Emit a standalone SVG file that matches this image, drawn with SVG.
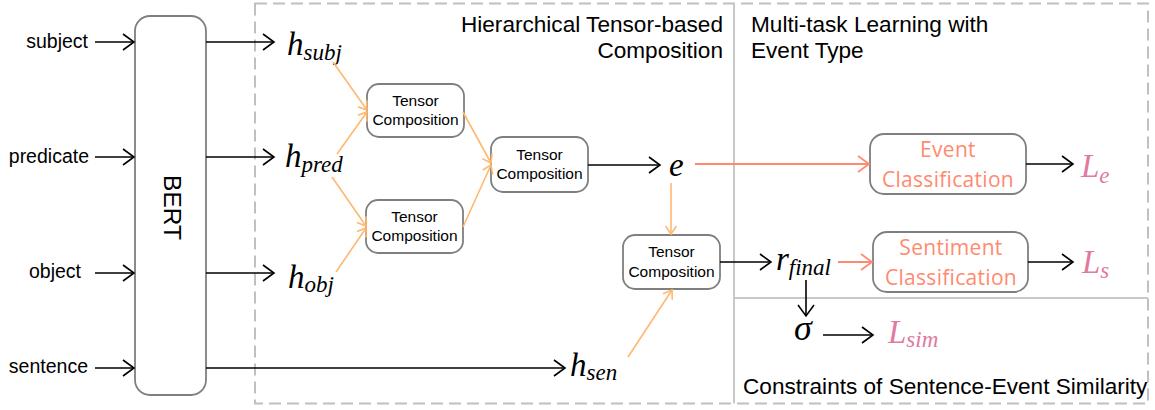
<svg xmlns="http://www.w3.org/2000/svg" width="1155" height="410" viewBox="0 0 1155 410">
<style>
.lbl{font-family:"Liberation Sans",Arial,sans-serif;font-size:19.5px;fill:#000}
.ttl{font-family:"Liberation Sans",Arial,sans-serif;font-size:22.6px;fill:#000}
.tc{font-family:"Liberation Sans",Arial,sans-serif;font-size:15.5px;fill:#000;text-anchor:middle}
.cls{font-family:"Open Sans","Noto Sans",sans-serif;font-size:21px;fill:#FF8A70;text-anchor:middle;letter-spacing:0.3px}
.m{font-family:"Liberation Serif","Times New Roman",serif;font-style:italic;font-size:33px;fill:#000}
.sub{font-size:23px}
.L{fill:#E07AA0}
.box{fill:#fff;stroke:#7F7F7F;stroke-width:1.8}
.blk{stroke:#000;stroke-width:1.6;fill:none}
.org{stroke:#FFB870;stroke-width:1.6;fill:none}
.sal{stroke:#FF8A70;stroke-width:1.8;fill:none}
</style>
<defs>
<marker id="ab" markerWidth="14" markerHeight="20" refX="12" refY="9" orient="auto" markerUnits="userSpaceOnUse"><path d="M1,1 L12,9 L1,17" fill="none" stroke="#000" stroke-width="1.6"/></marker>
<marker id="ao" markerWidth="12" markerHeight="14" refX="9" refY="6.5" orient="auto" markerUnits="userSpaceOnUse"><path d="M1,1 L9,6.5 L1,12" fill="none" stroke="#FFB870" stroke-width="1.6"/></marker>
<marker id="as" markerWidth="14" markerHeight="20" refX="12" refY="9" orient="auto" markerUnits="userSpaceOnUse"><path d="M1,1 L12,9 L1,17" fill="none" stroke="#FF8A70" stroke-width="1.8"/></marker>
</defs>

<g id="panels">
<rect x="255" y="3.5" width="893" height="400" fill="none" stroke="#C0C0C0" stroke-width="2" stroke-dasharray="12 6"/>
<line x1="734" y1="3.5" x2="734" y2="403.5" stroke="#C8C8C8" stroke-width="2"/>
<line x1="734" y1="298" x2="1148" y2="298" stroke="#C8C8C8" stroke-width="2"/>
<text class="ttl" x="723" y="32" text-anchor="end">Hierarchical Tensor-based</text>
<text class="ttl" x="723" y="58" text-anchor="end">Composition</text>
<text class="ttl" x="751" y="32">Multi-task Learning with</text>
<text class="ttl" x="751" y="58">Event Type</text>
<text class="ttl" x="743" y="394">Constraints of Sentence-Event Similarity</text>
</g>

<g id="inputs">
<text class="lbl" x="88" y="48" text-anchor="end">subject</text>
<text class="lbl" x="89" y="163" text-anchor="end">predicate</text>
<text class="lbl" x="81" y="278" text-anchor="end">object</text>
<text class="lbl" x="88" y="373" text-anchor="end">sentence</text>
</g>

<g id="bert">
<rect class="box" x="135" y="16" width="71" height="379" rx="15"/>
<text transform="translate(163.5,207.5) rotate(90)" text-anchor="middle" style="font-family:'Liberation Sans',Arial,sans-serif;font-size:24.5px">BERT</text>
</g>

<g id="h_subj"><text class="m" x="287" y="55">h<tspan class="sub" dy="5">subj</tspan></text></g>
<g id="h_pred"><text class="m" x="285" y="167">h<tspan class="sub" dy="5">pred</tspan></text></g>
<g id="h_obj"><text class="m" x="288" y="288">h<tspan class="sub" dy="4">obj</tspan></text></g>
<g id="h_sen"><text class="m" x="570" y="376">h<tspan class="sub" dy="4">sen</tspan></text></g>

<g id="tc1"><rect class="box" x="367" y="84" width="97" height="53" rx="12"/><text class="tc" x="415.5" y="106">Tensor</text><text class="tc" x="415.5" y="125">Composition</text></g>
<g id="tc2"><rect class="box" x="366" y="200" width="97" height="53" rx="12"/><text class="tc" x="414.5" y="222">Tensor</text><text class="tc" x="414.5" y="241">Composition</text></g>
<g id="tc3"><rect class="box" x="491" y="137" width="97" height="55" rx="12"/><text class="tc" x="539.5" y="160">Tensor</text><text class="tc" x="539.5" y="179">Composition</text></g>
<g id="tc4"><rect class="box" x="623" y="235" width="97" height="54" rx="12"/><text class="tc" x="671.5" y="257">Tensor</text><text class="tc" x="671.5" y="277">Composition</text></g>

<g id="e"><text class="m" x="669" y="176">e</text></g>
<g id="r_final"><text class="m" x="776" y="270">r<tspan class="sub" dy="5">final</tspan></text></g>
<g id="sigma"><text class="m" x="794" y="340" style="font-size:36px">σ</text></g>

<g id="event_cls"><rect class="box" x="870" y="134" width="156" height="60" rx="14"/><text class="cls" x="948" y="157">Event</text><text class="cls" x="948" y="187">Classification</text></g>
<g id="sent_cls"><rect class="box" x="873" y="232" width="155" height="60" rx="14"/><text class="cls" x="951" y="255">Sentiment</text><text class="cls" x="951" y="285">Classification</text></g>

<g id="L_e"><text class="m L" x="1081" y="177">L<tspan class="sub" dy="6">e</tspan></text></g>
<g id="L_s"><text class="m L" x="1082" y="273">L<tspan class="sub" dy="5">s</tspan></text></g>
<g id="L_sim"><text class="m L" x="888" y="343">L<tspan class="sub" dy="4">sim</tspan></text></g>

<g id="connectors">
<line class="blk" x1="95" y1="42" x2="134" y2="42" marker-end="url(#ab)"/>
<line class="blk" x1="95" y1="157" x2="134" y2="157" marker-end="url(#ab)"/>
<line class="blk" x1="95" y1="273" x2="134" y2="273" marker-end="url(#ab)"/>
<line class="blk" x1="95" y1="368" x2="134" y2="368" marker-end="url(#ab)"/>
<line class="blk" x1="206" y1="42" x2="274" y2="42" marker-end="url(#ab)"/>
<line class="blk" x1="206" y1="157" x2="274" y2="157" marker-end="url(#ab)"/>
<line class="blk" x1="206" y1="273" x2="274" y2="273" marker-end="url(#ab)"/>
<line class="blk" x1="206" y1="368" x2="565" y2="368" marker-end="url(#ab)"/>
<line class="org" x1="333" y1="62" x2="367" y2="110" marker-end="url(#ao)"/>
<line class="org" x1="337" y1="154" x2="367" y2="112" marker-end="url(#ao)"/>
<line class="org" x1="332" y1="177" x2="366" y2="226" marker-end="url(#ao)"/>
<line class="org" x1="336" y1="272" x2="366" y2="228" marker-end="url(#ao)"/>
<line class="org" x1="463" y1="112" x2="491" y2="163" marker-end="url(#ao)"/>
<line class="org" x1="463" y1="227" x2="491" y2="165" marker-end="url(#ao)"/>
<line class="blk" x1="588" y1="165" x2="660" y2="165" marker-end="url(#ab)"/>
<line class="sal" x1="695" y1="164" x2="869" y2="164" marker-end="url(#as)"/>
<line class="org" x1="671" y1="183" x2="671" y2="234" marker-end="url(#ao)"/>
<line class="org" x1="628" y1="357" x2="672" y2="290" marker-end="url(#ao)"/>
<line class="blk" x1="720" y1="262" x2="771" y2="262" marker-end="url(#ab)"/>
<line class="sal" x1="838" y1="262" x2="872" y2="262" marker-end="url(#as)"/>
<line class="blk" x1="806" y1="280" x2="806" y2="316" marker-end="url(#ab)"/>
<line class="blk" x1="823" y1="335" x2="873" y2="335" marker-end="url(#ab)"/>
<line class="blk" x1="1026" y1="164" x2="1073" y2="164" marker-end="url(#ab)"/>
<line class="blk" x1="1028" y1="262" x2="1073" y2="262" marker-end="url(#ab)"/>
</g>
</svg>
